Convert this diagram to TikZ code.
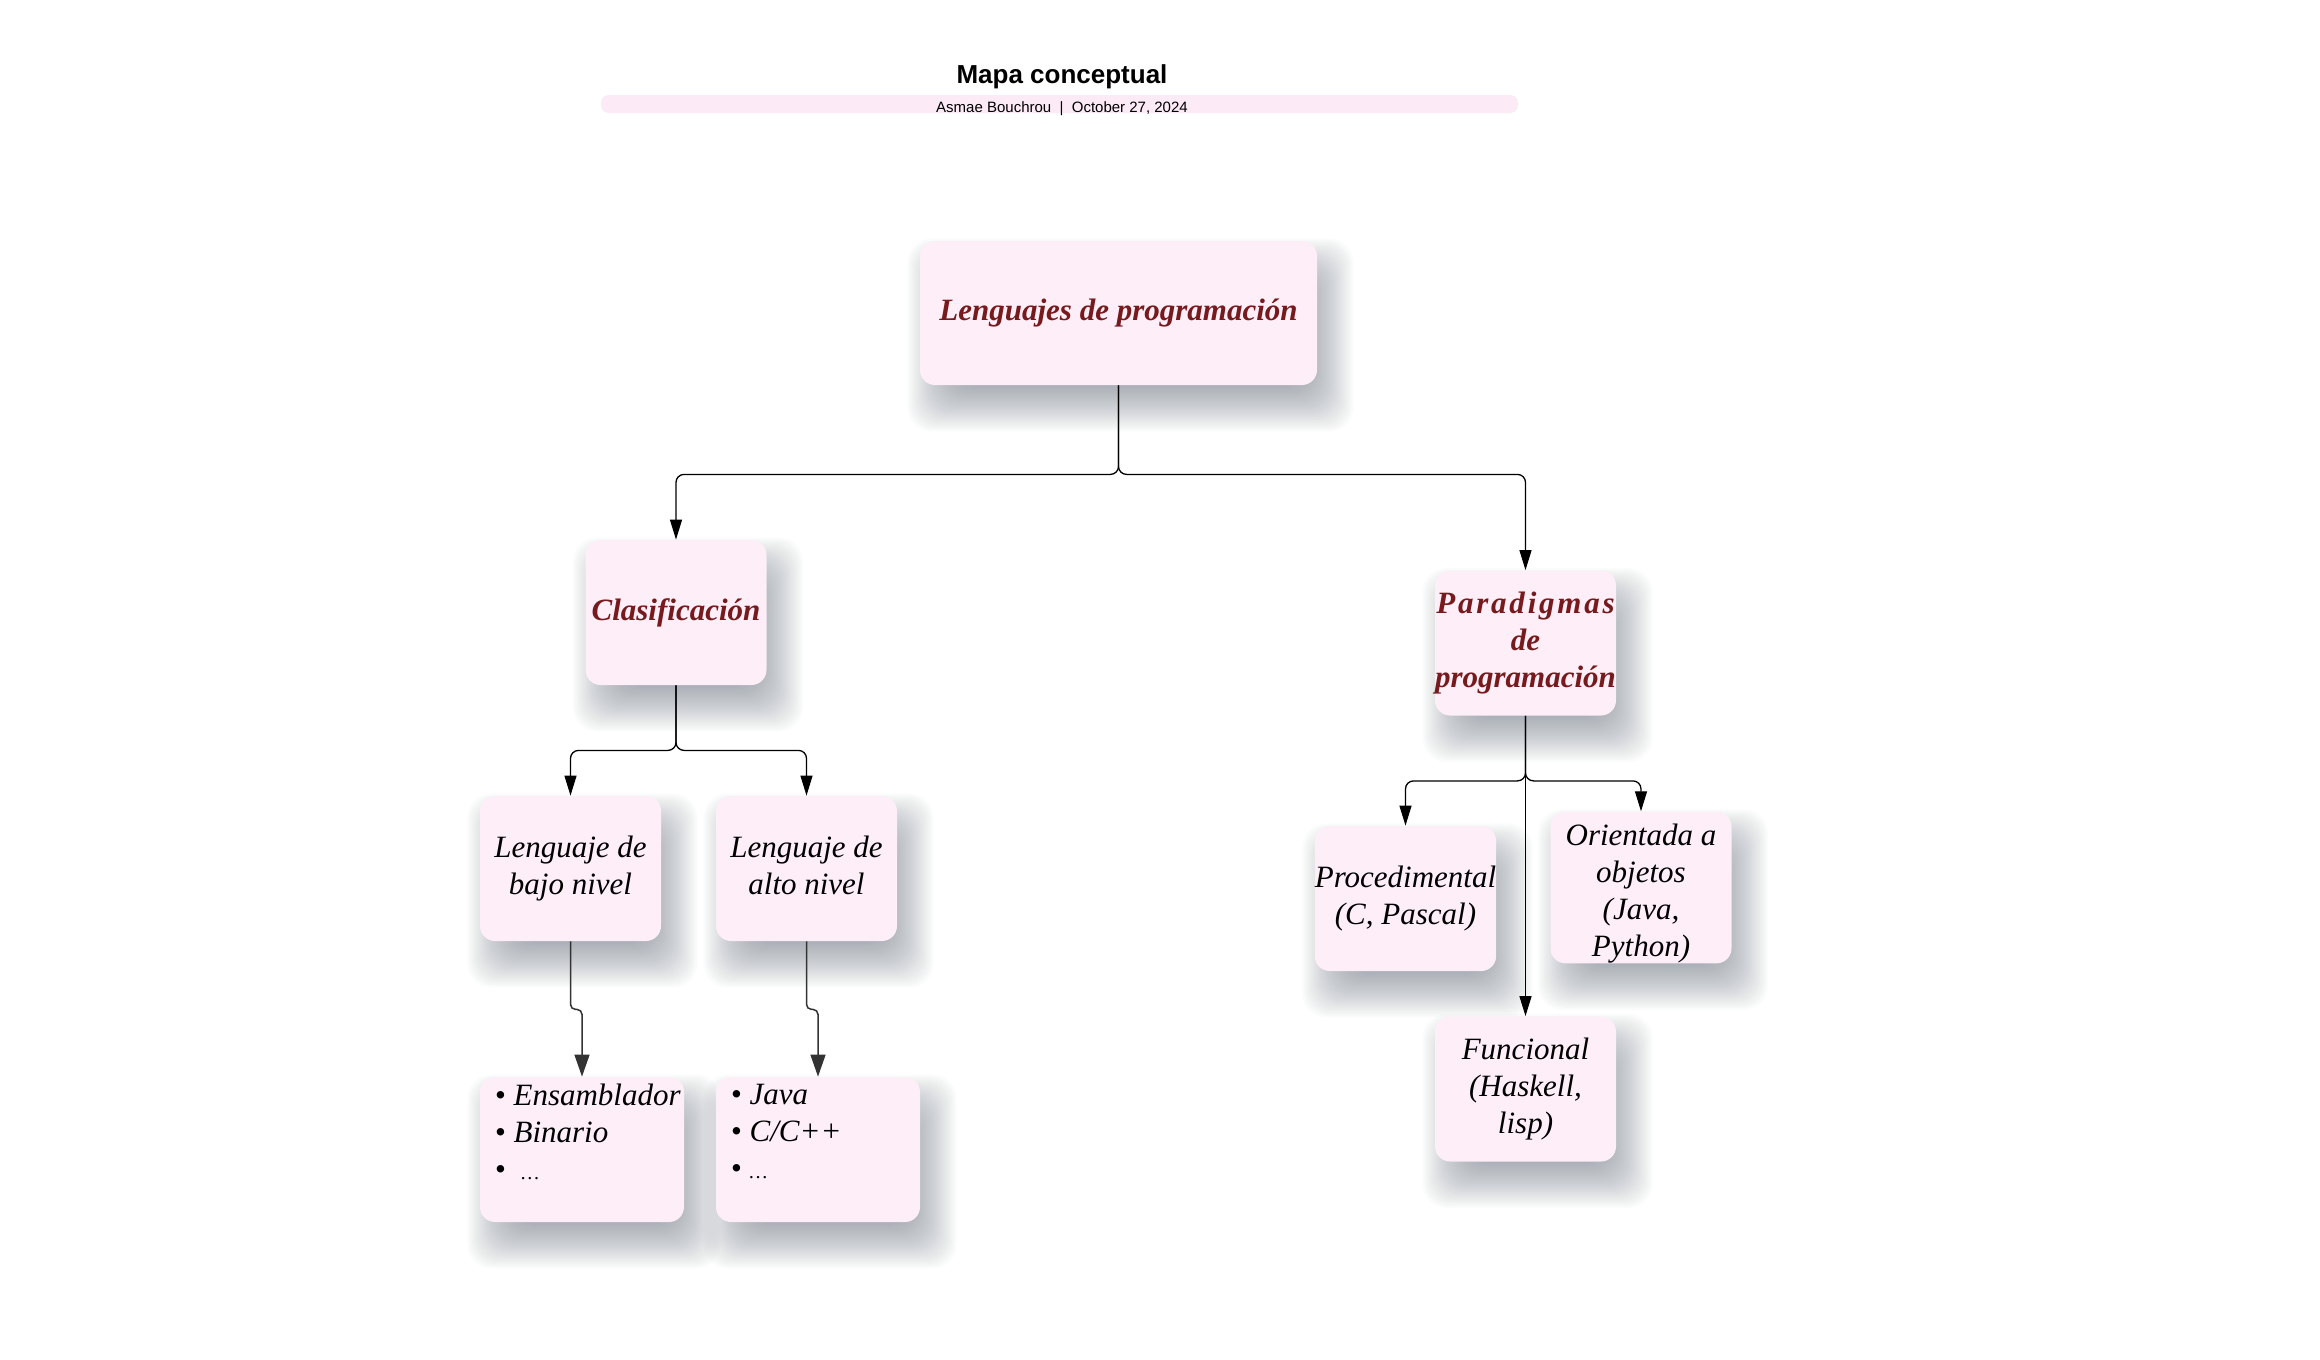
\documentclass[tikz,border=0pt]{standalone}
\usepackage{fontspec}
\setmainfont{Liberation Serif}
\newfontfamily\titlefont{Liberation Sans}
\usetikzlibrary{arrows.meta}
\pgfdeclarelayer{background}
\pgfsetlayers{background,main}
\definecolor{boxpink}{HTML}{FDEEF8}
\definecolor{barpink}{HTML}{FCEBF6}
\definecolor{darkred}{HTML}{771A1E}
\definecolor{linkgray}{HTML}{333333}
\definecolor{shadowgray}{HTML}{4E586C}
\begin{document}
\begin{tikzpicture}[x=0.5pt,y=-0.5pt,
	concept/.style={rectangle,rounded corners=7.5pt,fill=boxpink,inner sep=0pt,align=center,
		minimum width=90.5pt,minimum height=72.5pt,font=\itshape\fontsize{15.5}{18.5}\selectfont},
	keyconcept/.style={concept,text=darkred,font=\bfseries\itshape\fontsize{15.5}{18.5}\selectfont},
	listbox/.style={concept,minimum width=102pt},
	link/.style={draw=black,line width=0.65pt,rounded corners=4pt,-{Triangle[length=10pt,width=6pt]}},
	sublink/.style={draw=linkgray,line width=0.75pt,rounded corners=2.5pt,-{Triangle[length=11pt,width=7.5pt]}}]
	\useasboundingbox (0,0) rectangle (2320,1360);
	\node[font=\titlefont\bfseries\fontsize{13}{15}\selectfont] (title) at (1062,77) {Mapa conceptual};
	\fill[barpink,rounded corners=4pt] (601,95) rectangle (1518,113);
	\node[inner sep=0pt,font=\titlefont\fontsize{7.5}{9}\selectfont] (byline) at (1062,109) {Asmae Bouchrou\ \ |\ \ October 27, 2024};
	\node[keyconcept,minimum width=198.5pt,minimum height=72pt] (root) at (1118.5,313) {Lenguajes de programación};
	\node[keyconcept] (clas) at (676,612.5) {Clasificación};
	\node[keyconcept] (para) at (1525.5,643) {{\addfontfeature{LetterSpace=9}Paradigmas}\\de\\programación};
	\node[concept] (bajo) at (570.5,868.5) {Lenguaje de\\bajo nivel};
	\node[concept] (alto) at (806.5,868.5) {Lenguaje de\\alto nivel\vphantom{j}};
	\node[listbox] (ens) at (582,1149.5) {\parbox[c][72.5pt][t]{87pt}{\vspace*{3.5pt}\mbox{\textup{•}~Ensamblador}\\\mbox{\textup{•}~Binario}\\\mbox{\textup{•}~~{\fontsize{10}{18.5}\selectfont …}}}};
	\node[listbox] (java) at (818,1149.5) {\parbox[c][72.5pt][t]{87pt}{\vspace*{3.5pt}\mbox{\textup{•}~Java}\\\mbox{\textup{•}~C/C++}\\\mbox{\textup{•}~{\fontsize{10}{18.5}\selectfont …}}}};
	\node[concept] (proc) at (1405.5,898.5) {Procedimental\\(C, Pascal)};
	\node[concept] (orie) at (1641,887.5) {\rule{0pt}{17pt}Orientada a\\objetos\\(Java,\\Python)};
	\node[concept] (func) at (1525.5,1089) {Funcional\\(Haskell,\\lisp)};
	\begin{pgfonlayer}{background}
		\fill[white] (0,0) rectangle (2320,1360);
		\foreach \n in {root,clas,para,bajo,alto,ens,java,proc,orie,func}
			\foreach \e in {-24,-22,...,24}
				\fill[shadowgray,opacity=0.022,rounded corners=12pt]
					([shift={(12-\e,22-\e)}]\n.north west) rectangle ([shift={(12+\e,22+\e)}]\n.south east);
	\end{pgfonlayer}
	\draw[link] (root.south) -- ++(0,89) -| (clas.north);
	\draw[link] (root.south) -- ++(0,89) -| (para.north);
	\draw[link] (clas.south) -- ++(0,65) -| (bajo.north);
	\draw[link] (clas.south) -- ++(0,65) -| (alto.north);
	\draw[sublink] (bajo.south) -- ++(0,68) -| (ens.north);
	\draw[sublink] (alto.south) -- ++(0,68) -| (java.north);
	\draw[link] (para.south) -- ++(0,65) -| (proc.north);
	\draw[link] (para.south) -- ++(0,65) -| (orie.north);
	\draw[link] (para.south) -- (func.north);
\end{tikzpicture}
\end{document}
